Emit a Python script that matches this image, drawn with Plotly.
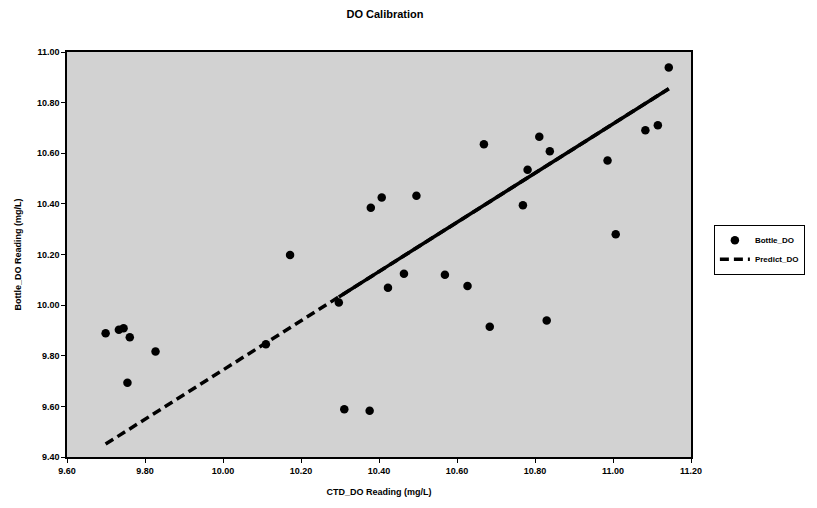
import plotly.graph_objects as go

# CTD sensor readings vs bottle titrations (mg/L)
ctd_do = [9.699, 9.733, 9.745, 9.761, 9.755, 9.827, 10.110, 10.172, 10.297, 10.311,
          10.376, 10.379, 10.407, 10.423, 10.464, 10.496, 10.569, 10.627, 10.669, 10.684,
          10.769, 10.781, 10.811, 10.830, 10.838, 10.986, 11.007, 11.083, 11.115, 11.143]
bottle_do = [9.889, 9.903, 9.909, 9.873, 9.693, 9.817, 9.845, 10.198, 10.010, 9.589,
             9.583, 10.385, 10.425, 10.069, 10.124, 10.432, 10.120, 10.076, 10.636, 9.915,
             10.395, 10.535, 10.665, 9.939, 10.608, 10.571, 10.280, 10.691, 10.711, 10.939]
predict_do = [9.451, 9.484, 9.496, 9.511, 9.506, 9.576, 9.851, 9.911, 10.032, 10.046,
              10.109, 10.112, 10.139, 10.155, 10.195, 10.226, 10.297, 10.353, 10.394, 10.409,
              10.491, 10.503, 10.532, 10.550, 10.558, 10.702, 10.723, 10.796, 10.827, 10.855]

x_ticks = [9.60, 9.80, 10.00, 10.20, 10.40, 10.60, 10.80, 11.00, 11.20]
y_ticks = [9.40, 9.60, 9.80, 10.00, 10.20, 10.40, 10.60, 10.80, 11.00]

# regression line drawn in x order
order = sorted(range(len(ctd_do)), key=lambda i: ctd_do[i])
line_x = [ctd_do[i] for i in order]
line_y = [predict_do[i] for i in order]
solid_start = 8  # densely sampled upper part reads as a solid stroke

FONT = "Liberation Sans, Arial, sans-serif"

fig = go.Figure()
fig.add_trace(go.Scatter(
    x=ctd_do, y=bottle_do, mode="markers", name="Bottle_DO",
    marker=dict(color="black", size=8.5, symbol="circle"),
))
fig.add_trace(go.Scatter(
    x=line_x, y=line_y, mode="lines", name="Predict_DO",
    line=dict(color="black", width=3.5, dash="9px,5px"),
))
fig.add_trace(go.Scatter(
    x=line_x[solid_start:], y=line_y[solid_start:], mode="lines", showlegend=False,
    line=dict(color="black", width=3.5), hoverinfo="skip",
))

axis_common = dict(
    showgrid=False, zeroline=False, showline=True, linecolor="black", linewidth=1.5,
    mirror=True, tickformat=".2f", ticks="outside", ticklen=4, tickcolor="black",
    tickfont=dict(family=FONT, size=9, color="black", weight="bold"),
)

fig.update_layout(
    width=817, height=508,
    margin=dict(l=67, r=123, t=52, b=47),
    paper_bgcolor="white", plot_bgcolor="#d2d2d2",
    title=dict(text="DO Calibration", x=385 / 817, xanchor="center", y=1 - 14 / 508,
               yanchor="middle",
               font=dict(family=FONT, size=11, color="black", weight="bold")),
    xaxis=dict(range=[9.6, 11.2], tickvals=x_ticks,
               title=dict(text="CTD_DO Reading (mg/L)", standoff=14,
                          font=dict(family=FONT, size=9, color="black", weight="bold")),
               **axis_common),
    yaxis=dict(range=[9.4, 11.0], tickvals=y_ticks,
               title=dict(text="Bottle_DO Reading (mg/L)", standoff=14,
                          font=dict(family=FONT, size=9, color="black", weight="bold")),
               **axis_common),
    legend=dict(x=(717 - 67) / 627, y=(461 - 277) / 409, xanchor="left", yanchor="bottom",
                bgcolor="white", bordercolor="black", borderwidth=1,
                font=dict(family=FONT, size=8, color="black", weight="bold"),
                tracegroupgap=0, itemwidth=30),
    showlegend=True,
)

fig.write_html("out.html")
